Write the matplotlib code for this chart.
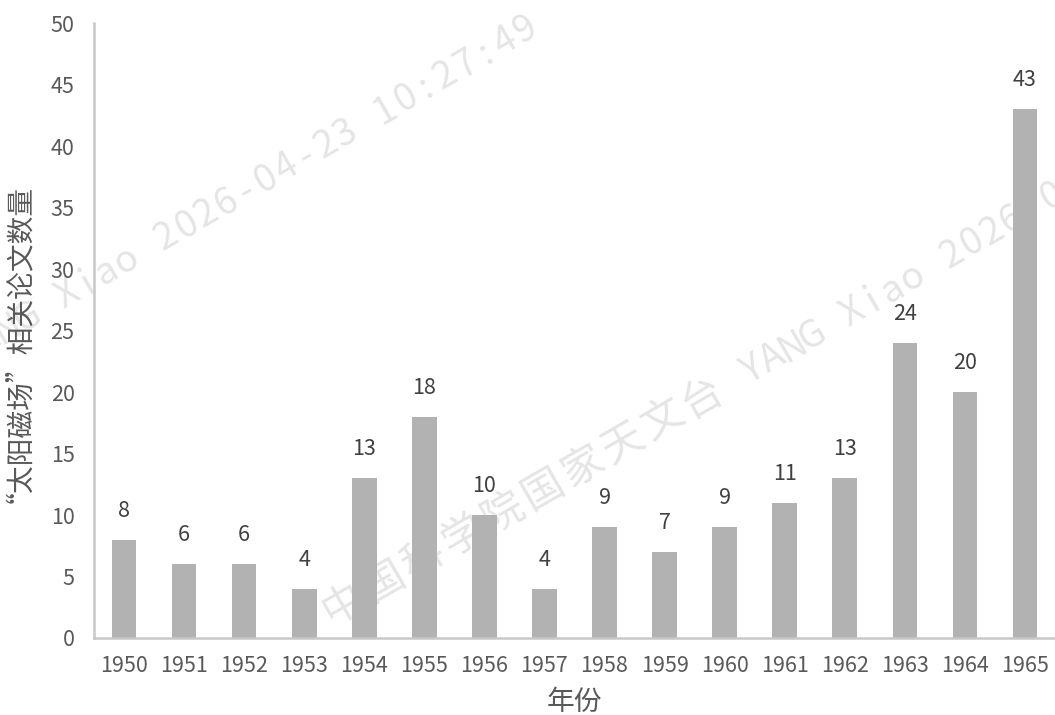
import matplotlib.pyplot as plt
import numpy as np

plt.rcParams['font.family'] = ['Noto Sans CJK SC', 'DejaVu Sans']

# paper counts per year
years = ['1950', '1951', '1952', '1953', '1954', '1955', '1956', '1957',
         '1958', '1959', '1960', '1961', '1962', '1963', '1964', '1965']
counts = [8, 6, 6, 4, 13, 18, 10, 4, 9, 7, 9, 11, 13, 24, 20, 43]
yticks = [0, 5, 10, 15, 20, 25, 30, 35, 40, 45, 50]

W, H = 1055, 715
fig = plt.figure(figsize=(W / 100, H / 100), dpi=100)
ax = fig.add_axes([94 / W, 1 - 638 / H, (W - 94) / W, (638 - 23) / H])

x = np.arange(len(years))
bars = ax.bar(x, counts, width=0.41, color='#b2b2b2', zorder=2)

# value labels above the bars
for xi, v in zip(x, counts):
    ax.text(xi, v + 1.45, str(v), ha='center', va='bottom',
            fontsize=15.5, color='#404040', zorder=3)

ax.set_xlim(-0.5, len(years) - 0.5)
ax.set_ylim(0, 50)
ax.set_xticks(x)
ax.set_xticklabels(years)
ax.set_yticks(yticks)
ax.tick_params(axis='both', length=0, labelsize=15.5, labelcolor='#595959')
ax.tick_params(axis='x', pad=12)
ax.tick_params(axis='y', pad=14)

for side in ['top', 'right']:
    ax.spines[side].set_visible(False)
for side in ['left', 'bottom']:
    ax.spines[side].set_color('#c8c8c8')
    ax.spines[side].set_linewidth(1.8)

ax.set_xlabel('年份', fontsize=20, color='#595959')
ax.set_ylabel('“太阳磁场”相关论文数量', fontsize=20, color='#595959')
ax.xaxis.set_label_coords(0.5, -0.08)
ax.yaxis.set_label_coords(-0.077, 0.49)

# diagonal watermark behind the bars, fixed-pitch characters
mark = '中国科学院国家天文台 YANG Xiao 2026-04-23 10:27:49'
ang = np.deg2rad(30)
ux, uy = np.cos(ang), -np.sin(ang)


def watermark(x0, y0):
    s = 0.0
    for ch in mark:
        wide = ord(ch) > 255
        step = 46 if wide else 23
        cx = x0 + (s + step / 2) * ux
        cy = y0 + (s + step / 2) * uy
        s += step
        # characters that fall fully off the canvas are skipped
        if ch == ' ' or cx < -8 or cx > W + 8 or cy < -8 or cy > H + 8:
            continue
        ax.text(cx / W, 1 - cy / H, ch, transform=fig.transFigure,
                rotation=30, rotation_mode='anchor', ha='center',
                va='baseline', fontsize=30 if wide else 27,
                color='#e5e5e5', zorder=0.5, clip_on=False)


# second line starts at the left of the bars, first line is shifted up
watermark(330, 626)
watermark(162 - 713 * ux, 252 - 713 * uy)

fig.savefig('out.png', dpi=100)
